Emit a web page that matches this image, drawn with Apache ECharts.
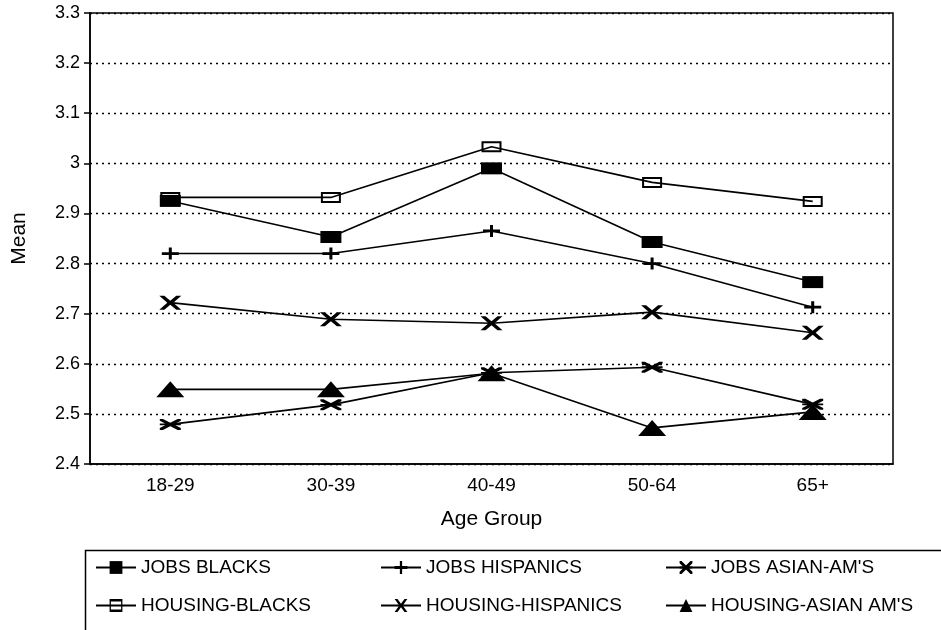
<!DOCTYPE html>
<html><head><meta charset="utf-8">
<script src="https://cdn.jsdelivr.net/npm/echarts@6/dist/echarts.min.js"></script>
<style>html,body{margin:0;padding:0;background:#fff}#c{width:941px;height:630px}</style>
</head><body><div id="c"></div>
<script>
var categories = ['18-29','30-39','40-49','50-64','65+'];
var jobsBlacks = [2.925, 2.853, 2.99, 2.843, 2.763];
var housingBlacks = [2.932, 2.932, 3.033, 2.962, 2.924];
var jobsHispanics = [2.82, 2.82, 2.865, 2.80, 2.713];
var housingHispanics = [2.722, 2.689, 2.681, 2.703, 2.662];
var jobsAsian = [2.479, 2.518, 2.582, 2.593, 2.519];
var housingAsian = [2.549, 2.549, 2.581, 2.472, 2.504];
var seriesNames = ['JOBS BLACKS','JOBS HISPANICS',"JOBS ASIAN-AM'S",'HOUSING-BLACKS','HOUSING-HISPANICS',"HOUSING-ASIAN AM'S"];

var FONT = '"Liberation Sans", Arial, sans-serif';
var plusPath = 'path://M0,5 L7,5 L7,0 L10,0 L10,5 L17,5 L17,8 L10,8 L10,13 L7,13 L7,8 L0,8 Z';
var boldX = 'path://M0,0 L5,0 L11,5 L17,0 L22,0 L14,7 L22,14 L17,14 L11,9 L5,14 L0,14 L8,7 Z';
var asterisk = 'path://M0,0 L3,0 L20,10 L20,12 L17,12 L0,2 Z M20,0 L20,2 L3,12 L0,12 L0,10 L17,0 Z M0,5 L20,5 L20,7 L0,7 Z';
var hollowRect = 'path://M0,0 L20,0 L20,11 L0,11 Z M2,2 L2,9 L18,9 L18,2 Z';

function mk(name, data, symbol, size) {
  return {
    name: name, type: 'line', data: data, symbol: symbol, symbolSize: size,
    lineStyle: {color: '#000', width: 1.6},
    itemStyle: {color: '#000', borderWidth: 0},
    emphasis: {disabled: true}, animation: false
  };
}
var series = [
  mk(seriesNames[0], jobsBlacks, 'rect', [21, 12]),
  mk(seriesNames[1], jobsHispanics, plusPath, [17, 12]),
  mk(seriesNames[2], jobsAsian, asterisk, [21, 11]),
  mk(seriesNames[3], housingBlacks, hollowRect, [20, 11]),
  mk(seriesNames[4], housingHispanics, boldX, [22, 14]),
  mk(seriesNames[5], housingAsian, 'triangle', [28, 16])
];

var legPos = [[90,553],[375,553],[660,553],[90,591],[375,591],[660,591]];
var legends = seriesNames.map(function(n, i){
  return {data:[n], left: legPos[i][0], top: legPos[i][1], itemWidth: 40, itemHeight: 16, itemGap: 8,
    textStyle:{fontFamily: FONT, fontSize: 19, color:'#000'}, selectedMode:false};
});

var chart = echarts.init(document.getElementById('c'), null, {renderer:'canvas'});
chart.setOption({
  animation: false,
  backgroundColor: '#fff',
  grid: {left: 90, right: 48, top: 13, bottom: 166, show: true, borderColor: '#000', borderWidth: 1.5,
    containLabel: false, outerBoundsMode: 'none'},
  legend: legends,
  xAxis: {
    type: 'category', data: categories, boundaryGap: true,
    name: 'Age Group', nameLocation: 'middle', nameGap: 45,
    nameTextStyle: {fontFamily: FONT, fontSize: 21, color: '#000'},
    axisLine: {lineStyle: {color: '#000', width: 1.5}},
    axisTick: {alignWithLabel: true, length: 6, lineStyle: {color: '#000', width: 1.5}},
    axisLabel: {fontFamily: FONT, fontSize: 19, color: '#000', margin: 12}
  },
  yAxis: {
    type: 'value', min: 2.4, max: 3.3, interval: 0.1,
    name: 'Mean', nameLocation: 'middle', nameGap: 60, nameRotate: 90,
    nameTextStyle: {fontFamily: FONT, fontSize: 21, color: '#000'},
    axisLine: {show: true, lineStyle: {color: '#000', width: 1.5}},
    axisTick: {show: true, length: 6, lineStyle: {color: '#000', width: 1.5}},
    axisLabel: {fontFamily: FONT, fontSize: 18, color: '#000', margin: 10,
      formatter: function(v){ return String(Math.round(v*10)/10); }},
    splitLine: {show: true, lineStyle: {color: '#000', type: [2, 4], width: 1.3}}
  },
  graphic: [{type: 'rect', left: 83, top: 548, shape: {width: 900, height: 120},
    style: {fill: 'none', stroke: '#000', lineWidth: 1.5}, silent: true, z: -1}],
  series: series
});
</script></body></html>
